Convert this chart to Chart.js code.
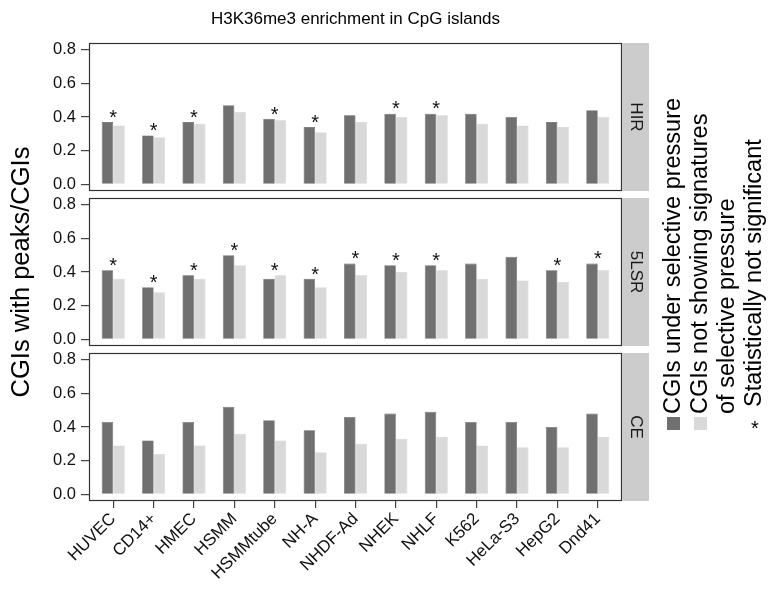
<!DOCTYPE html>
<html><head><meta charset="utf-8">
<script src="https://cdn.jsdelivr.net/npm/chart.js@4/dist/chart.umd.min.js"></script>
<style>
html,body{margin:0;padding:0;background:#fff;}
#wrap{position:relative;width:769px;height:592px;overflow:hidden;}
#wrap canvas{position:absolute;left:0;top:0;}
</style></head><body>
<div id="wrap">
<canvas id="c0" width="769" height="592"></canvas>
<canvas id="c1" width="769" height="592"></canvas>
<canvas id="c2" width="769" height="592"></canvas>
</div>
<script>
// ---- data ----
const categories = ['HUVEC','CD14+','HMEC','HSMM','HSMMtube','NH-A','NHDF-Ad','NHEK','NHLF','K562','HeLa-S3','HepG2','Dnd41'];
const panelNames = ['HIR','5LSR','CE'];
const seriesNames = ['CGIs under selective pressure', 'CGIs not showing signatures of selective pressure'];
const hirUnder = [0.37,0.29,0.37,0.47,0.39,0.34,0.41,0.42,0.42,0.42,0.40,0.37,0.44];
const hirNot   = [0.35,0.28,0.36,0.43,0.38,0.31,0.37,0.40,0.41,0.36,0.35,0.34,0.40];
const hirStar  = [1,1,1,0,1,1,0,1,1,0,0,0,0];
const lsrUnder = [0.41,0.31,0.38,0.50,0.36,0.36,0.45,0.44,0.44,0.45,0.49,0.41,0.45];
const lsrNot   = [0.36,0.28,0.36,0.44,0.38,0.31,0.38,0.40,0.41,0.36,0.35,0.34,0.41];
const lsrStar  = [1,1,1,1,1,1,1,1,1,0,0,1,1];
const ceUnder  = [0.43,0.32,0.43,0.52,0.44,0.38,0.46,0.48,0.49,0.43,0.43,0.40,0.48];
const ceNot    = [0.29,0.24,0.29,0.36,0.32,0.25,0.30,0.33,0.34,0.29,0.28,0.28,0.34];
const ceStar   = [0,0,0,0,0,0,0,0,0,0,0,0,0];
const yTicks = [0.0,0.2,0.4,0.6,0.8];
const titleText = 'H3K36me3 enrichment in CpG islands';
const yTitleText = 'CGIs with peaks/CGIs';
const starLegendText = 'Statistically not significant';

const underAll = [hirUnder, lsrUnder, ceUnder];
const notAll = [hirNot, lsrNot, ceNot];
const starAll = [hirStar, lsrStar, ceStar];

// ---- layout / style ----
const FONT = '"Liberation Sans", Arial, Helvetica, sans-serif';
const W = 769, H = 592;
const panelBox = [{top:43,bottom:191},{top:198,bottom:346},{top:353,bottom:501}];
const LEFT = 89, RIGHT = 622;
const DARK = '#707070', LIGHT = '#d9d9d9';

const decor = {
  id:'decor',
  afterDatasetsDraw(chart, args, opts){
    const ctx = chart.ctx, a = chart.chartArea, i = opts.idx;
    const xs = chart.scales.x, ys = chart.scales.y;
    ctx.save();
    // asterisks
    ctx.fillStyle = '#111';
    ctx.font = '20px ' + FONT;
    ctx.textAlign = 'center';
    ctx.textBaseline = 'alphabetic';
    starAll[i].forEach((s,k)=>{
      if(!s) return;
      const top = Math.max(underAll[i][k], notAll[i][k]);
      const x = xs.getPixelForValue(k+1);
      const y = ys.getPixelForValue(top + 0.058);
      ctx.fillText('*', x, y + 0.58*20);
    });
    // panel border
    ctx.strokeStyle = '#333';
    ctx.lineWidth = 1.2;
    ctx.strokeRect(a.left+0.5, a.top+0.5, a.right-a.left-1, a.bottom-a.top-1);
    // strip
    ctx.fillStyle = '#cccccc';
    ctx.fillRect(a.right, a.top, 27, a.bottom-a.top);
    ctx.fillStyle = '#1a1a1a';
    ctx.font = '17px ' + FONT;
    ctx.translate(a.right+13.5, (a.top+a.bottom)/2);
    ctx.rotate(Math.PI/2);
    ctx.textAlign='center'; ctx.textBaseline='middle';
    ctx.fillText(panelNames[i], 0, 0);
    ctx.restore();

    if(i===0){
      ctx.save();
      ctx.fillStyle='#000';
      ctx.font='17px ' + FONT;
      ctx.textAlign='center'; ctx.textBaseline='alphabetic';
      ctx.fillText(titleText, (LEFT+RIGHT)/2, 24);
      ctx.restore();
    }
    if(i===1){
      ctx.save();
      ctx.fillStyle='#000';
      ctx.font='25.5px ' + FONT;
      ctx.translate(22, 272);
      ctx.rotate(-Math.PI/2);
      ctx.textAlign='center'; ctx.textBaseline='middle';
      ctx.fillText(yTitleText, 0, 0);
      ctx.restore();
    }
    if(i===2){
      ctx.save();
      // keys
      ctx.fillStyle = DARK; ctx.fillRect(667,417,13,13);
      ctx.fillStyle = LIGHT; ctx.fillRect(694,417,13,13);
      ctx.fillStyle='#000';
      ctx.font='20px ' + FONT;
      ctx.textAlign='center'; ctx.textBaseline='alphabetic';
      ctx.fillText('*', 755, 423 + 0.58*20);
      ctx.font='23.5px ' + FONT;
      const lines = [['CGIs under selective pressure',674,414],
                     ['CGIs not showing signatures',701,414],
                     ['of selective pressure',728,414],
                     [starLegendText,755,407]];
      lines.forEach(([t,x,y])=>{
        ctx.save();
        ctx.translate(x,y); ctx.rotate(-Math.PI/2);
        ctx.textAlign='left'; ctx.textBaseline='middle';
        ctx.fillText(t,0,0);
        ctx.restore();
      });
      ctx.restore();
    }
  }
};

function makeChart(id, i){
  const last = i===2;
  const box = panelBox[i];
  return new Chart(document.getElementById(id), {
    type:'bar',
    data:{datasets:[
      {label:seriesNames[0], data:underAll[i].map((v,k)=>({x:k+1,y:v})), backgroundColor:DARK, borderColor:'#606060', borderWidth:0.6, categoryPercentage:0.57, barPercentage:1},
      {label:seriesNames[1], data:notAll[i].map((v,k)=>({x:k+1,y:v})), backgroundColor:LIGHT, borderColor:'#d2d2d2', borderWidth:0.6, categoryPercentage:0.57, barPercentage:1}
    ]},
    options:{
      responsive:false, animation:false, events:[],
      layout:{padding:{left:0, right:W-RIGHT, top:box.top, bottom: last?0:H-box.bottom}},
      plugins:{legend:{display:false}, tooltip:{enabled:false}, decor:{idx:i}},
      scales:{
        x:{type:'linear', min:0.4, max:13.6, offset:false, display:last,
           afterBuildTicks:s=>{s.ticks = categories.map((c,k)=>({value:k+1}));},
           afterFit:s=>{ if(last) s.height = H-box.bottom; },
           grid:{offset:false, drawOnChartArea:false, drawTicks:true, tickLength:7, tickColor:'#444', lineWidth:1.2},
           border:{display:false},
           ticks:{autoSkip:false, minRotation:45, maxRotation:45, callback:v=>categories[Math.round(v)-1],
                  font:{size:17,family:FONT}, color:'#111', padding:1}},
        y:{min:-0.04, max:0.84,
           afterBuildTicks:s=>{s.ticks = yTicks.map(v=>({value:v}));},
           afterFit:s=>{s.width = LEFT;},
           grid:{drawOnChartArea:false, drawTicks:true, tickLength:8, tickColor:'#444', lineWidth:1.2},
           border:{display:false},
           ticks:{callback:v=>Number(v).toFixed(1), font:{size:16.5,family:FONT}, color:'#111', padding:5}}
      }
    },
    plugins:[decor]
  });
}
makeChart('c0',0); makeChart('c1',1); makeChart('c2',2);
</script>
</body></html>
